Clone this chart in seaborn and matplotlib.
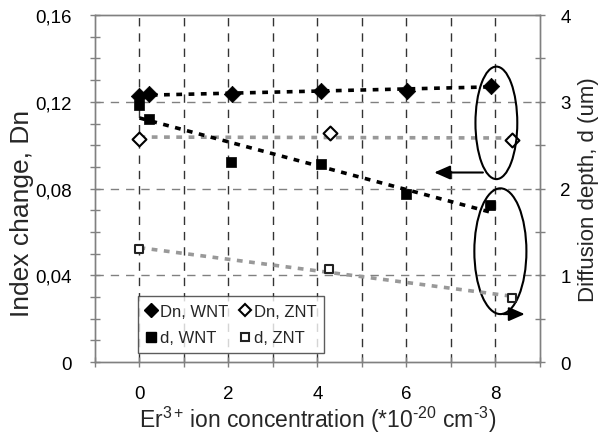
import numpy as np
import pandas as pd
import matplotlib
matplotlib.use("Agg")
import matplotlib.pyplot as plt
from matplotlib.patches import Ellipse
from matplotlib.ticker import MultipleLocator, FuncFormatter
from matplotlib.lines import Line2D
import seaborn as sns

# ---- data ----
dn_wnt_x = [0.0, 0.21, 2.07, 4.08, 6.01, 7.89]
dn_wnt_y = [0.1229, 0.1237, 0.1234, 0.1252, 0.1252, 0.1275]
dn_znt_x = [0.0, 4.29, 8.36]
dn_znt_y = [0.1027, 0.1057, 0.1022]
d_wnt_x = [0.0, 0.21, 2.06, 4.07, 6.0, 7.87]
d_wnt_y = [2.96, 2.80, 2.31, 2.28, 1.94, 1.81]
d_znt_x = [0.0, 4.27, 8.36]
d_znt_y = [1.30, 1.07, 0.74]

x_ticks = [0, 2, 4, 6, 8]
left_ticks = [0, 0.04, 0.08, 0.12, 0.16]
right_ticks = [0, 1, 2, 3, 4]
legend_labels = ["Dn, WNT", "Dn, ZNT", "d, WNT", "d, ZNT"]

sns.set_theme(style="white")
plt.rcParams["font.family"] = ["Liberation Sans", "DejaVu Sans"]
plt.rcParams["mathtext.fontset"] = "custom"
plt.rcParams["mathtext.rm"] = "Liberation Sans"
plt.rcParams["mathtext.it"] = "Liberation Sans"
plt.rcParams["mathtext.default"] = "regular"

fig = plt.figure(figsize=(6.03, 4.35), dpi=100)
ax = fig.add_axes([0.1575, 0.1655, 0.738, 0.7975])
ax2 = ax.twinx()

ax.set_xlim(-1, 9)
ax.set_ylim(0, 0.16)
ax2.set_ylim(0, 4)

# grid
for v in range(0, 9):
    ax.axvline(v, color="#333333", lw=1.0, ls=(0, (6, 5)), zorder=0)
for h in [0.04, 0.08, 0.12]:
    ax.axhline(h, color="#808080", lw=1.0, ls=(0, (6, 5)), zorder=0)

black = "#000000"
grey = "#999999"
dot = (0, (1.6, 1.8))

# trend lines (linear regression of each series)
sns.regplot(x=dn_wnt_x, y=dn_wnt_y, ax=ax, scatter=False, ci=None, truncate=True,
            line_kws=dict(color=black, lw=2.6, ls=dot, zorder=2))
sns.regplot(x=dn_znt_x, y=dn_znt_y, ax=ax, scatter=False, ci=None, truncate=True,
            line_kws=dict(color=grey, lw=2.6, ls=dot, zorder=2))
sns.regplot(x=d_wnt_x, y=d_wnt_y, ax=ax2, scatter=False, ci=None, truncate=True,
            line_kws=dict(color=black, lw=2.6, ls=dot, zorder=2))
sns.regplot(x=d_znt_x, y=d_znt_y, ax=ax2, scatter=False, ci=None, truncate=True,
            line_kws=dict(color=grey, lw=2.6, ls=dot, zorder=2))

# markers
sns.scatterplot(x=dn_wnt_x, y=dn_wnt_y, ax=ax, marker="D", s=70, color=black,
                edgecolor=black, linewidth=0.5, zorder=3)
sns.scatterplot(x=dn_znt_x, y=dn_znt_y, ax=ax, marker="D", s=50, color="white",
                edgecolor=black, linewidth=1.5, zorder=3)
sns.scatterplot(x=d_wnt_x, y=d_wnt_y, ax=ax2, marker="s", s=60, color=black,
                edgecolor=black, linewidth=0.5, zorder=3)
sns.scatterplot(x=d_znt_x, y=d_znt_y, ax=ax2, marker="s", s=38, color="white",
                edgecolor="#222222", linewidth=1.5, zorder=3)

# ellipses and arrows
ax.add_patch(Ellipse((8.02, 0.1103), 0.94, 0.0519, fill=False, ec=black, lw=1.5, zorder=4))
ax.add_patch(Ellipse((8.11, 0.0511), 1.17, 0.058, fill=False, ec=black, lw=1.5, zorder=4))
ax.annotate("", xy=(6.56, 0.0874), xytext=(7.78, 0.0874),
            arrowprops=dict(arrowstyle="-|>,head_length=0.8,head_width=0.35", color=black, lw=1.5),
            zorder=4)
ax.annotate("", xy=(8.72, 0.0221), xytext=(8.11, 0.0221),
            arrowprops=dict(arrowstyle="-|>,head_length=0.8,head_width=0.35", color=black, lw=1.5),
            zorder=4)

# ticks
spine_c = "#808080"
for a in (ax, ax2):
    for s in a.spines.values():
        s.set_color(spine_c)
        s.set_linewidth(1.0)
ax.set_xticks(x_ticks)
ax.xaxis.set_minor_locator(MultipleLocator(1))
ax.set_yticks(left_ticks)
ax.yaxis.set_minor_locator(MultipleLocator(0.01))
ax.yaxis.set_major_formatter(FuncFormatter(lambda v, p: "0" if abs(v) < 1e-9 else f"{v:.2f}".replace(".", ",")))
ax2.set_yticks(right_ticks)
ax2.yaxis.set_minor_locator(MultipleLocator(0.5))
ax.tick_params(axis="both", which="both", direction="inout", length=7, width=1, color=spine_c,
               labelsize=13.5, labelcolor="black", bottom=True, left=True)
ax.tick_params(axis="x", pad=13)
ax.tick_params(axis="y", pad=13)
ax2.tick_params(axis="y", which="both", direction="inout", length=7, width=1, color=spine_c,
                labelsize=13.5, labelcolor="black", pad=11, right=True)

ax.set_xlabel("Er$^{3+}\\,$ion concentration (*10$^{\u201020}$ cm$^{\u20103}$)", fontsize=16.5, labelpad=1)
ax.set_ylabel("Index change, Dn", fontsize=19)
ax.yaxis.set_label_coords(-0.137, 0.43)
ax2.set_ylabel("Diffusion depth, d (um)", fontsize=16, labelpad=5)

# legend (column-major order so rows read Dn..., d...)
h_dn_wnt = Line2D([], [], ls="", marker="D", ms=7, mfc=black, mec=black)
h_dn_znt = Line2D([], [], ls="", marker="D", ms=6, mfc="white", mec=black, mew=1.5)
h_d_wnt = Line2D([], [], ls="", marker="s", ms=7, mfc=black, mec=black)
h_d_znt = Line2D([], [], ls="", marker="s", ms=5.5, mfc="white", mec="#222222", mew=1.5)
handles = [h_dn_wnt, h_d_wnt, h_dn_znt, h_d_znt]
labels = [legend_labels[0], legend_labels[2], legend_labels[1], legend_labels[3]]
leg = ax2.legend(handles, labels, ncol=2, loc="lower left",
                 bbox_to_anchor=(0.097, 0.026), borderaxespad=0, fontsize=12,
                 frameon=True, fancybox=False, handlelength=0.6, handletextpad=0.25,
                 columnspacing=0.7, borderpad=0.45, labelspacing=0.7)
leg.get_frame().set_edgecolor("#333333")
leg.get_frame().set_linewidth(1.0)
leg.set_zorder(5)

fig.savefig("out.png", dpi=100)
